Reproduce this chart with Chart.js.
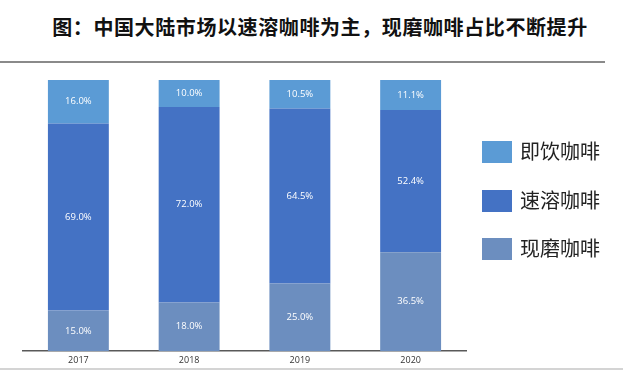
<!DOCTYPE html>
<html><head><meta charset="utf-8">
<script src="https://cdn.jsdelivr.net/npm/chart.js@4"></script>
<style>
html,body{margin:0;padding:0;background:#fff;}
#wrap{position:relative;width:623px;height:382px;overflow:hidden;font-family:"Noto Sans CJK SC","Noto Sans",sans-serif;}
#title{position:absolute;left:0;width:640px;top:11px;text-align:center;font-size:20px;font-weight:bold;color:#111;line-height:32px;letter-spacing:0.6px;}
#line1{position:absolute;left:0;width:605px;top:61px;height:2px;background:#8a8a8a;}
#line2{position:absolute;left:0;width:623px;top:368px;height:2px;background:#d4d4d4;}
#cv{position:absolute;left:0;top:0;}
#legend{position:absolute;left:482px;top:141px;}
.li{position:absolute;left:0;height:22px;white-space:nowrap;}
.sw{position:absolute;left:0;top:0;width:30px;height:22px;}
.lt{position:absolute;left:38px;top:-6px;font-size:20px;line-height:32px;color:#222;}
</style></head>
<body>
<div id="wrap">
<div id="title">图：中国大陆市场以速溶咖啡为主，现磨咖啡占比不断提升</div>
<div id="line1"></div>
<canvas id="cv" width="623" height="382"></canvas>
<div id="line2"></div>
<div id="legend"></div>
</div>
<script>
const categories = ["2017", "2018", "2019", "2020"];
const freshGround = [15.0, 18.0, 25.0, 36.5];   // 现磨咖啡
const instant = [69.0, 72.0, 64.5, 52.4];       // 速溶咖啡
const readyToDrink = [16.0, 10.0, 10.5, 11.1];  // 即饮咖啡
const seriesNames = ["现磨咖啡", "速溶咖啡", "即饮咖啡"];
const seriesColors = ["#6C8EBF", "#4472C4", "#5B9BD5"];

const datasets = [freshGround, instant, readyToDrink].map((d, i) => ({
  label: seriesNames[i],
  data: d,
  backgroundColor: seriesColors[i],
  borderWidth: 0,
  barPercentage: 0.55,
  categoryPercentage: 1.0
}));

const labelPlugin = {
  id: 'barLabels',
  afterDatasetsDraw(chart) {
    const ctx = chart.ctx;
    ctx.save();
    ctx.fillStyle = '#ffffff';
    ctx.font = '9.5px "Open Sans", "Noto Sans", sans-serif';
    ctx.textAlign = 'center';
    ctx.textBaseline = 'middle';
    chart.data.datasets.forEach((ds, di) => {
      const meta = chart.getDatasetMeta(di);
      meta.data.forEach((el, i) => {
        const y = (el.y + el.base) / 2;
        ctx.fillText(ds.data[i].toFixed(1) + '%', el.x, y);
      });
    });
    ctx.restore();
  }
};

new Chart(document.getElementById('cv'), {
  type: 'bar',
  data: { labels: categories, datasets },
  options: {
    responsive: false,
    animation: false,
    devicePixelRatio: 1,
    layout: { padding: { left: 23, right: 157, top: 80, bottom: 12 } },
    plugins: { legend: { display: false }, tooltip: { enabled: false }, title: { display: false } },
    scales: {
      x: {
        stacked: true,
        grid: { display: false, drawTicks: false },
        border: { display: true, color: '#595959', width: 1.5 },
        ticks: { color: '#333', font: { size: 9, family: '"Open Sans", "Noto Sans", sans-serif' }, padding: 4 }
      },
      y: { stacked: true, display: false, min: 0, max: 100 }
    }
  },
  plugins: [labelPlugin]
});

// legend (top to bottom: 即饮, 速溶, 现磨)
const leg = document.getElementById('legend');
[2, 1, 0].forEach((idx, k) => {
  const item = document.createElement('div');
  item.className = 'li';
  item.style.top = (k * 48.5) + 'px';
  item.innerHTML = '<div class="sw" style="background:' + seriesColors[idx] + '"></div><div class="lt">' + seriesNames[idx] + '</div>';
  leg.appendChild(item);
});
</script>
</body></html>
